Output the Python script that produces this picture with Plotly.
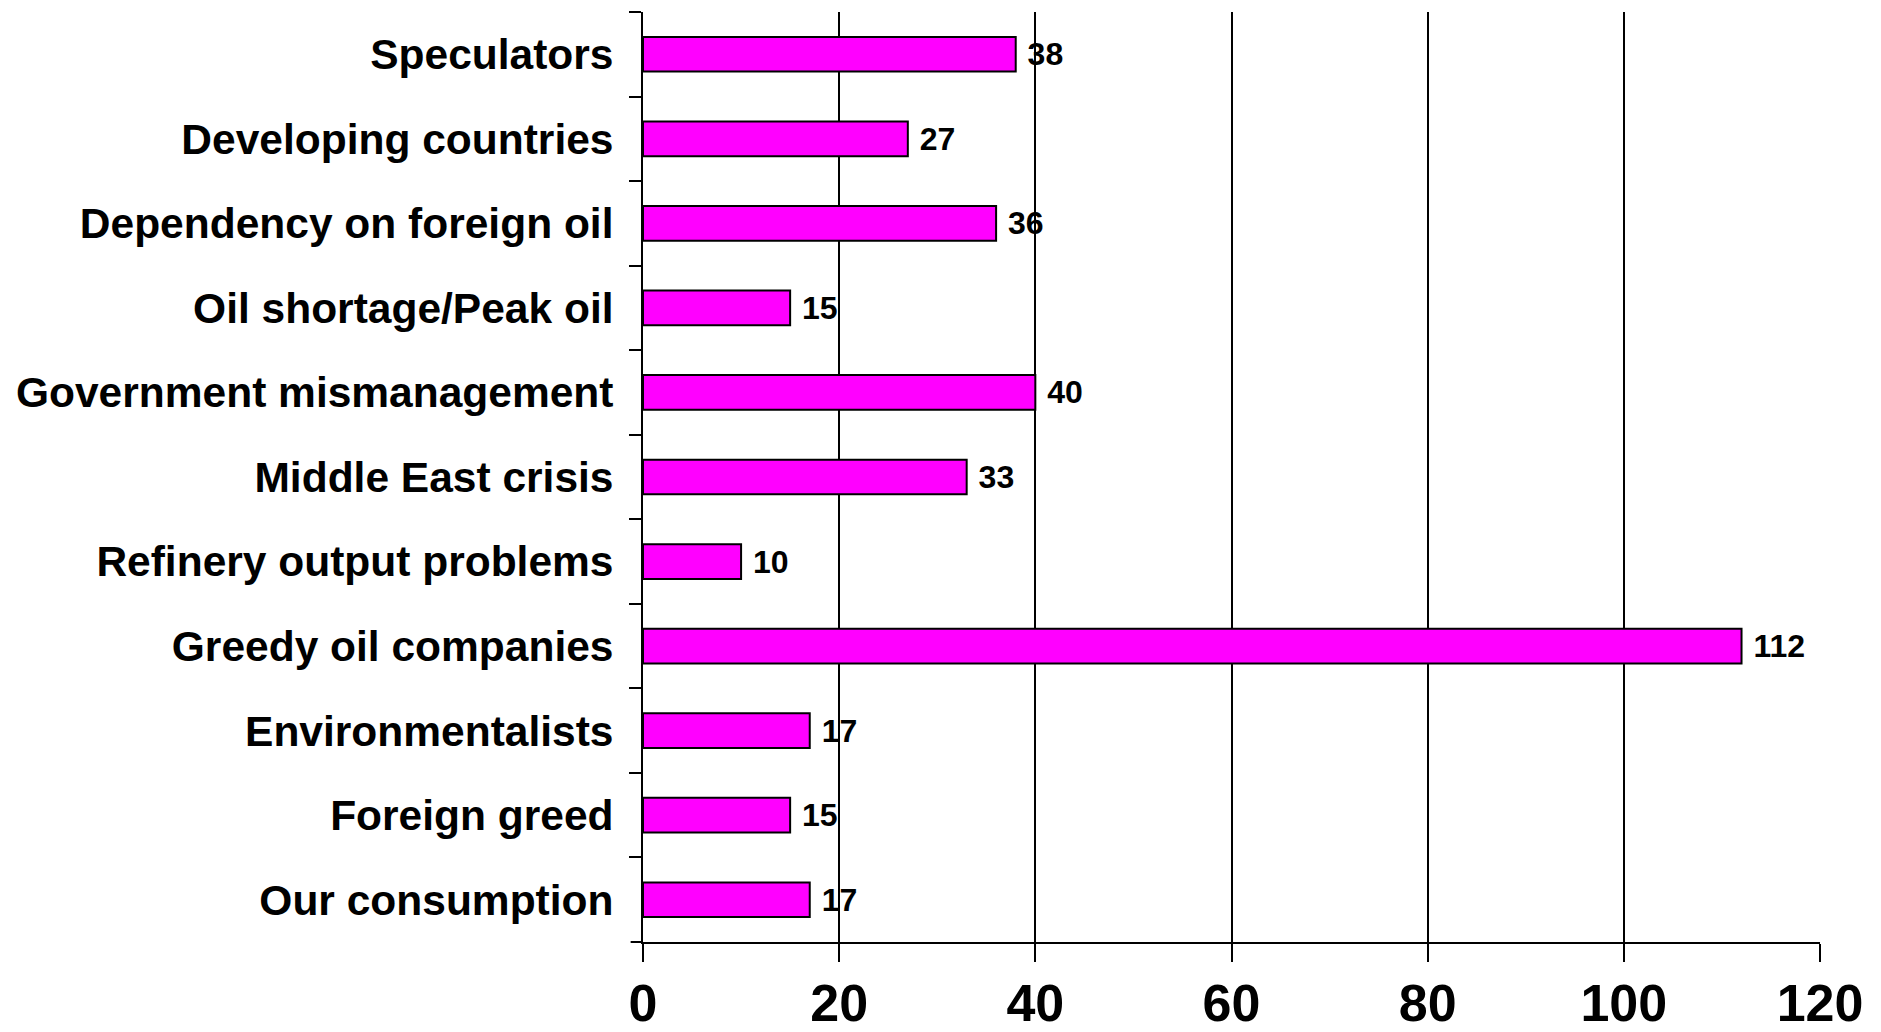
import plotly.graph_objects as go

categories = [
    "Speculators",
    "Developing countries",
    "Dependency on foreign oil",
    "Oil shortage/Peak oil",
    "Government mismanagement",
    "Middle East crisis",
    "Refinery output problems",
    "Greedy oil companies",
    "Environmentalists",
    "Foreign greed",
    "Our consumption",
]
values = [38, 27, 36, 15, 40, 33, 10, 112, 17, 15, 17]
x_ticks = [0, 20, 40, 60, 80, 100, 120]

FONT = "Liberation Sans, Arial, Helvetica, sans-serif"

fig = go.Figure(
    go.Bar(
        y=categories,
        x=values,
        orientation="h",
        marker=dict(color="#FF00FF", line=dict(color="black", width=2)),
        text=values,
        texttemplate="\u00a0%{x}",
        textposition="outside",
        textfont=dict(family=FONT, size=32, color="black", weight="bold"),
        cliponaxis=False,
        constraintext="none",
        width=0.41,
    )
)

# page body has an 8px default margin, so the figure is sized to fit inside it
fig.update_layout(
    template="none",
    width=1865,
    height=1016,
    margin=dict(l=635, r=53, t=4, b=82, autoexpand=False),
    paper_bgcolor="white",
    plot_bgcolor="white",
    showlegend=False,
    font=dict(family=FONT, color="black"),
    shapes=[
        dict(type="line", xref="paper", yref="paper",
             x0=-0.0105, x1=0, y0=0, y1=0,
             line=dict(color="black", width=2)),
    ],
)

fig.update_xaxes(
    range=[0, 120],
    tickvals=x_ticks,
    ticktext=[str(v) for v in x_ticks],
    showgrid=True,
    gridcolor="black",
    gridwidth=2,
    showline=True,
    linecolor="black",
    linewidth=2,
    ticks="outside",
    ticklen=18,
    tickwidth=2,
    tickcolor="black",
    ticklabelstandoff=-3,
    tickfont=dict(family=FONT, size=52, color="black", weight="bold"),
    zeroline=False,
    automargin=False,
    fixedrange=True,
)

fig.update_yaxes(
    autorange="reversed",
    showline=True,
    linecolor="black",
    linewidth=2,
    ticks="outside",
    ticklen=12,
    tickwidth=2,
    tickcolor="black",
    tickson="boundaries",
    ticklabelstandoff=19,
    tickfont=dict(family=FONT, size=42.5, color="black", weight="bold"),
    showgrid=False,
    zeroline=False,
    automargin=False,
    fixedrange=True,
)

fig.write_html("out.html")
